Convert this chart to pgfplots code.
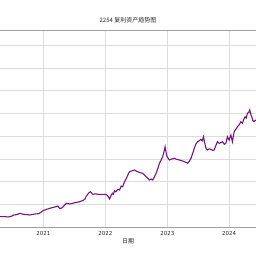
\documentclass[border=0pt]{standalone}
\usepackage{pgfplots}
\pgfplotsset{compat=1.18}
\usepackage{fontspec}
\setmainfont{DejaVu Sans}
\newfontfamily\cjk{Noto Sans CJK SC}
\definecolor{mplpurple}{RGB}{118,20,128}
\definecolor{spinegray}{RGB}{160,160,160}
\definecolor{gridgray}{RGB}{220,220,220}
\pgfplotstableread{
x y
2020.301 0.466
2020.380 0.470
2020.429 0.453
2020.480 0.480
2020.526 0.541
2020.580 0.560
2020.622 0.615
2020.686 0.563
2020.740 0.555
2020.783 0.541
2020.864 0.585
2020.930 0.600
2020.997 0.730
2021.050 0.790
2021.105 0.835
2021.185 0.892
2021.233 0.936
2021.265 0.826
2021.300 0.850
2021.330 0.936
2021.373 1.055
2021.426 1.024
2021.506 1.081
2021.587 1.125
2021.640 1.180
2021.668 1.231
2021.695 1.376
2021.730 1.500
2021.759 1.565
2021.801 1.451
2021.840 1.470
2021.881 1.451
2021.930 1.440
2021.989 1.451
2022.020 1.430
2022.042 1.376
2022.069 1.244
2022.090 1.380
2022.113 1.495
2022.130 1.450
2022.150 1.609
2022.170 1.560
2022.203 1.670
2022.230 1.640
2022.257 1.815
2022.280 1.780
2022.310 2.004
2022.340 2.150
2022.363 2.299
2022.391 2.444
2022.430 2.480
2022.471 2.519
2022.500 2.470
2022.524 2.444
2022.560 2.400
2022.605 2.374
2022.630 2.300
2022.659 2.224
2022.690 2.150
2022.712 2.079
2022.740 2.120
2022.765 2.079
2022.790 2.200
2022.820 2.374
2022.850 2.600
2022.873 2.813
2022.900 2.950
2022.926 3.103
2022.950 3.350
2022.965 3.543
2022.980 3.300
2022.997 3.103
2023.034 2.958
2023.070 3.000
2023.114 3.033
2023.150 2.990
2023.195 2.958
2023.240 2.920
2023.275 2.884
2023.300 2.860
2023.328 2.813
2023.355 2.900
2023.383 3.033
2023.410 3.250
2023.436 3.473
2023.460 3.650
2023.489 3.763
2023.515 3.800
2023.543 3.868
2023.565 3.800
2023.585 3.982
2023.605 3.700
2023.624 3.473
2023.650 3.398
2023.680 3.450
2023.704 3.429
2023.730 3.380
2023.757 3.398
2023.785 3.600
2023.810 3.763
2023.838 3.692
2023.865 3.720
2023.891 3.763
2023.920 3.650
2023.945 3.692
2023.971 3.982
2023.998 3.837
2024.026 4.057
2024.051 3.763
2024.079 4.202
2024.105 4.300
2024.132 4.422
2024.160 4.500
2024.187 4.642
2024.212 4.571
2024.235 4.750
2024.256 4.862
2024.275 4.800
2024.293 5.011
2024.315 5.050
2024.331 5.156
2024.350 4.950
2024.363 4.862
2024.380 4.700
2024.395 4.642
2024.432 4.716
}\datatable
\begin{document}
\begin{tikzpicture}
\path[use as bounding box, fill=white] (0,0) rectangle (256pt,256pt);
\begin{axis}[
  at={(0pt,28.7pt)}, anchor=south west,
  scale only axis,
  width=256pt, height=196.8pt,
  xmin=2020.301, xmax=2024.432,
  ymin=0, ymax=8.65,
  separate axis lines,
  x axis line style={draw=spinegray, line width=1.3pt, -},
  y axis line style={draw=none},
  xtick={2021,2022,2023,2024},
  xticklabels={2021,2022,2023,2024},
  ytick={1,2,3,4,5,6,7,8},
  yticklabels={},
  major tick length=0pt,
  grid=major,
  grid style={draw=gridgray, line width=0.9pt},
  ticklabel style={font=\fontsize{5.5}{6}\selectfont, text=black!85},
  xticklabel style={yshift=-0.5pt},
  xlabel={\cjk 日期},
  xlabel style={font=\cjk\fontsize{6}{7}\selectfont, text=black!85, yshift=4pt},
  title={2254 {\cjk 复利资产趋势图}},
  title style={font=\cjk\fontsize{6}{7}\selectfont, text=black!85, yshift=-2pt},
]
\addplot[mplpurple, line width=1.1pt, no markers] table[x=x, y=y] {\datatable};
\end{axis}
\end{tikzpicture}
\end{document}
